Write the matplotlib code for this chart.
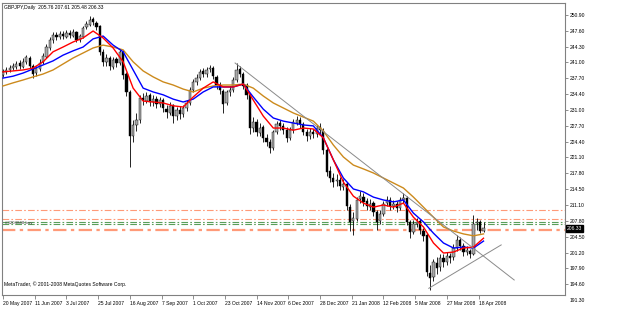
import matplotlib
matplotlib.use("Agg")
import matplotlib.pyplot as plt
import numpy as np

# ---------------- data ----------------
opens = [238.4, 239.0, 239.3, 239.9, 240.1, 240.8, 240.1, 241.0, 242.0, 240.3,
         238.7, 239.7, 241.0, 242.2, 244.1, 245.6, 246.8, 246.2, 247.0, 246.4,
         247.2, 246.6, 247.4, 245.6, 246.4, 248.3, 248.9, 250.0, 249.3, 248.5,
         243.1, 241.0, 242.0, 240.1, 241.6, 240.8, 243.1, 238.5, 234.7, 225.6,
         227.8, 229.0, 233.6, 233.0, 234.1, 232.6, 233.4, 232.2, 233.2, 231.3,
         230.5, 232.0, 229.7, 231.1, 230.1, 231.5, 232.4, 235.3, 236.8, 237.8,
         239.1, 238.5, 239.5, 239.9, 238.0, 236.2, 235.1, 232.4, 234.7, 235.3,
         237.2, 239.5, 238.5, 236.2, 234.1, 227.2, 228.6, 226.3, 227.4, 225.1,
         224.4, 223.0, 226.5, 228.2, 227.6, 226.9, 225.1, 226.9, 228.4, 229.0,
         228.0, 226.5, 225.5, 226.5, 225.9, 227.4, 226.7, 222.6, 218.2, 216.7,
         216.1, 216.3, 215.0, 215.6, 210.8, 207.7, 208.3, 212.3, 212.9, 211.9,
         210.8, 211.5, 209.6, 207.7, 209.2, 211.5, 212.1, 211.0, 211.3, 210.6,
         212.1, 212.7, 207.5, 205.6, 207.1, 207.7, 205.8, 204.8, 197.0, 196.0,
         199.1, 198.1, 200.0, 199.3, 200.4, 200.2, 202.1, 203.9, 202.5, 201.4,
         201.6, 201.0, 207.3, 207.5, 205.76]
highs = [239.6, 240.0, 240.5, 240.9, 241.3, 241.5, 241.8, 242.6, 242.4, 240.7,
         240.3, 241.6, 243.0, 244.8, 246.3, 247.4, 247.3, 247.5, 247.6, 247.8,
         247.7, 248.0, 247.6, 247.0, 248.7, 249.7, 250.6, 250.5, 249.6, 248.8,
         243.7, 242.8, 242.4, 242.1, 242.2, 243.7, 243.5, 239.0, 235.3, 229.0,
         230.4, 234.2, 234.5, 234.8, 234.6, 234.1, 233.9, 233.8, 233.6, 232.0,
         232.6, 232.3, 231.7, 231.8, 232.0, 233.2, 235.8, 237.5, 238.5, 239.6,
         239.8, 240.1, 240.5, 240.2, 238.4, 236.8, 235.5, 235.3, 236.0, 238.0,
         240.9, 240.2, 238.9, 236.6, 234.5, 229.6, 229.2, 228.2, 227.9, 225.9,
         225.0, 226.9, 228.8, 229.0, 228.3, 227.4, 227.5, 229.1, 229.7, 229.5,
         228.6, 227.1, 227.2, 227.0, 227.9, 228.2, 227.2, 223.1, 219.3, 217.8,
         217.6, 217.0, 216.6, 216.0, 211.4, 209.6, 212.9, 214.0, 213.6, 212.6,
         212.3, 212.0, 210.0, 210.1, 212.0, 213.1, 212.8, 212.2, 211.9, 212.9,
         213.7, 213.0, 208.1, 208.0, 208.4, 208.2, 206.4, 205.2, 198.6, 199.9,
         200.2, 201.0, 200.9, 201.3, 201.2, 203.0, 204.9, 204.4, 203.1, 202.6,
         202.0, 209.1, 208.5, 208.0, 207.61]
lows = [237.9, 238.6, 238.9, 239.3, 239.6, 239.7, 239.8, 240.6, 239.8, 237.7,
        238.2, 239.2, 240.6, 241.9, 243.6, 245.1, 245.6, 245.8, 245.9, 246.0,
        246.1, 246.2, 245.2, 245.2, 246.1, 247.9, 248.5, 248.8, 247.8, 242.6,
        240.2, 240.3, 239.4, 239.6, 240.1, 240.5, 237.6, 233.9, 219.2, 224.4,
        226.6, 228.4, 232.0, 232.4, 231.9, 231.8, 231.4, 231.6, 230.7, 229.4,
        230.0, 228.3, 229.0, 229.2, 229.6, 230.9, 232.0, 234.8, 236.2, 237.2,
        237.9, 238.0, 238.9, 237.5, 235.5, 234.4, 230.4, 232.0, 233.9, 234.8,
        236.8, 237.9, 235.4, 233.3, 226.0, 226.4, 225.5, 225.6, 224.4, 223.4,
        222.0, 222.6, 226.0, 226.9, 225.9, 224.3, 224.7, 226.3, 227.8, 227.2,
        225.7, 224.6, 224.9, 225.1, 225.4, 225.9, 221.9, 217.2, 215.9, 214.9,
        215.1, 214.2, 214.3, 210.0, 205.8, 204.9, 207.9, 211.6, 211.0, 210.0,
        210.1, 208.8, 205.9, 207.2, 208.8, 210.9, 210.2, 210.3, 209.7, 210.1,
        211.6, 206.9, 204.3, 205.0, 206.5, 205.1, 203.6, 196.3, 193.4, 195.2,
        196.8, 197.4, 198.1, 198.6, 199.0, 199.6, 201.6, 201.8, 200.4, 200.6,
        200.0, 200.7, 205.9, 205.2, 205.48]
closes = [239.0, 239.4, 239.8, 240.2, 240.7, 240.2, 241.1, 242.1, 240.2, 238.6,
          239.8, 240.9, 242.3, 244.2, 245.7, 246.7, 246.3, 246.9, 246.5, 247.1,
          246.7, 247.3, 245.7, 246.5, 248.2, 249.0, 249.9, 249.4, 248.4, 243.2,
          241.1, 241.9, 240.2, 241.5, 240.9, 243.2, 238.4, 234.8, 225.5, 227.9,
          228.9, 233.5, 233.1, 234.0, 232.7, 233.3, 232.3, 233.1, 231.4, 230.6,
          231.9, 229.8, 231.0, 230.2, 231.4, 232.5, 235.2, 236.9, 237.7, 239.0,
          238.6, 239.4, 239.8, 238.1, 236.1, 235.2, 232.3, 234.8, 235.2, 237.3,
          239.4, 238.6, 236.1, 234.2, 227.3, 228.5, 226.4, 227.3, 225.2, 224.3,
          223.1, 226.4, 228.1, 227.7, 226.8, 225.2, 226.8, 228.5, 228.9, 228.1,
          226.4, 225.6, 226.4, 226.0, 227.3, 226.8, 222.7, 218.1, 216.8, 216.0,
          216.4, 215.1, 215.5, 210.9, 207.6, 208.4, 212.2, 213.0, 211.8, 210.9,
          211.4, 209.7, 207.6, 209.3, 211.4, 212.2, 210.9, 211.4, 210.5, 212.2,
          212.6, 207.6, 205.5, 207.2, 207.6, 205.9, 204.7, 197.1, 195.9, 199.2,
          198.0, 200.1, 199.2, 200.5, 200.1, 202.2, 203.8, 202.6, 201.3, 201.7,
          200.9, 207.2, 207.6, 205.8, 206.33]

# moving averages, sampled every 6 bars
ma_fast = [239.0, 239.2, 239.4, 239.8, 241.1, 243.2, 244.2, 245.25, 246.1, 247.55,
           246.1, 244.0, 241.1, 235.6, 232.9, 232.7, 232.5, 231.9, 231.65, 233.75,
           235.6, 236.9, 235.85, 235.85, 236.45, 233.1, 229.75, 227.25, 227.25, 226.8,
           227.25, 227.05, 225.2, 220.6, 215.95, 213.0, 211.55, 210.7, 211.15, 210.7,
           211.55, 208.6, 206.55, 203.2, 201.1, 201.3, 202.15, 202.35, 204.2]
ma_mid = [237.7, 238.1, 238.75, 239.6, 240.45, 241.3, 242.5, 243.4, 244.2, 245.9,
          246.5, 244.6, 243.2, 239.4, 235.6, 234.8, 234.2, 233.3, 232.7, 233.3,
          234.8, 235.85, 235.85, 235.85, 236.45, 233.75, 231.2, 229.35, 228.7, 228.3,
          227.9, 227.7, 225.2, 220.6, 216.8, 214.5, 213.9, 212.8, 212.2, 211.8,
          212.2, 209.45, 207.6, 205.25, 203.2, 202.15, 202.35, 202.15, 203.6]
ma_slow = [236.05, 236.7, 237.3, 237.95, 238.55, 239.4, 240.65, 241.9, 242.95, 244.0,
           244.6, 244.2, 243.6, 241.1, 239.2, 237.95, 236.9, 236.25, 235.4, 234.8,
           235.6, 236.05, 236.25, 236.25, 236.45, 235.6, 233.95, 232.5, 231.45, 230.4,
           229.55, 228.7, 226.65, 223.7, 221.2, 219.5, 218.7, 217.85, 216.8, 215.75,
           214.7, 212.8, 210.7, 208.6, 206.55, 205.7, 205.1, 204.7, 205.1]

date_labels = ["20 May 2007", "11 Jun 2007", "3 Jul 2007", "25 Jul 2007", "16 Aug 2007",
               "7 Sep 2007", "1 Oct 2007", "23 Oct 2007", "14 Nov 2007", "6 Dec 2007",
               "28 Dec 2007", "21 Jan 2008", "12 Feb 2008", "5 Mar 2008", "27 Mar 2008",
               "18 Apr 2008"]
price_ticks = [250.90, 247.60, 244.30, 241.00, 237.70, 234.40, 231.00, 227.70, 224.40,
               221.10, 217.80, 214.50, 211.10, 207.80, 204.50, 201.20, 197.90, 194.60]
bottom_tick = 191.30

# order / stop lines (price, colour, width)
hline_prices = [210.05, 208.12, 207.64, 207.14, 205.92]
hline_colors = ["#ff9a78", "#ff9a78", "#5a9e5a", "#5a9e5a", "#ff9a78"]
hline_widths = [0.8, 0.8, 0.8, 0.8, 1.6]

# trend lines: (bar, price) endpoints
tl_down = ([139.1, 306.4], [240.86, 195.46])
tl_up = ([255.2, 298.6], [193.72, 202.80])

title_text = "GBPJPY,Daily  205.76 207.61 205.48 206.33"
last_price = "206.33"

# ---------------- drawing ----------------
FONT = ["Liberation Sans", "DejaVu Sans"]
plt.rcParams['font.family'] = FONT
FS = 3.6

W, H = 625, 309
fig = plt.figure(figsize=(W / 100, H / 100), dpi=100)
fig.patch.set_facecolor("white")
ax = fig.add_axes([2 / W, 14 / H, 563 / W, 292 / H])
ax.set_facecolor("white")

n = len(closes)
bars_per_candle = 2
x = np.arange(n) * bars_per_candle
o = np.array(opens); h = np.array(highs); l = np.array(lows); c = np.array(closes)
up = c >= o

ax.vlines(x, l, h, color="black", lw=0.6, zorder=2)
body_lo = np.minimum(o, c)
body_h = np.maximum(np.abs(c - o), 0.12)
ax.bar(x[up], body_h[up], bottom=body_lo[up], width=1.35, color="#a8a8a8",
       edgecolor="black", linewidth=0.3, zorder=3)
ax.bar(x[~up], body_h[~up], bottom=body_lo[~up], width=1.35, color="black",
       edgecolor="black", linewidth=0.3, zorder=3)

xm = np.arange(len(ma_fast)) * 6
ax.plot(xm, ma_slow, color="#cc8a1c", lw=1.0, zorder=4)
ax.plot(xm, ma_mid, color="#0000ff", lw=1.0, zorder=4)
ax.plot(xm, ma_fast, color="#ff0000", lw=1.0, zorder=4)

ax.plot(*tl_down, color="#8a8a8a", lw=0.7, zorder=5)
ax.plot(*tl_up, color="#8a8a8a", lw=0.7, zorder=5)

for p, col, lw in zip(hline_prices, hline_colors, hline_widths):
    ax.axhline(p, color=col, lw=lw, ls=(0, (6, 2, 1.5, 2)), zorder=1)

ax.text(1.0, 207.4, "#3204848 buy", fontsize=3.2, color="#404040", va="center",
        ha="left", zorder=6)

px_per_bar = 31.7 / 19
ax.set_xlim(-0.6, -0.6 + 563 / px_per_bar)
ax.set_ylim(192.32, 253.41)

ax.set_xticks(np.arange(len(date_labels)) * 19)
ax.set_xticklabels(date_labels, ha="left", fontsize=FS)
ax.tick_params(axis="x", direction="out", length=3, width=0.5, pad=1,
               colors="#606060", labelcolor="black")

ax.yaxis.tick_right()
ax.set_yticks(price_ticks)
ax.set_yticklabels([f"{v:.2f}" for v in price_ticks], fontsize=FS)
ax.tick_params(axis="y", direction="out", length=2, width=0.5, pad=1.5,
               colors="#606060", labelcolor="black")
# lowest scale label sits at the bottom edge of the scale
fig.text(569.5 / W, 1 - 300 / H, f"{bottom_tick:.2f}", fontsize=FS, va="center",
         ha="left")

for s in ax.spines.values():
    s.set_color("#808080")
    s.set_linewidth(0.8)

# title and copyright
ax.text(0.004, 0.992, title_text, transform=ax.transAxes, fontsize=FS,
        va="top", ha="left", color="black")
ax.text(0.003, 0.028, "MetaTrader, \u00a9 2001-2008 MetaQuotes Software Corp.",
        transform=ax.transAxes, fontsize=FS, va="bottom", ha="left", color="black")

# current price box on the price scale
ytr = ax.transData.transform((0, closes[-1]))[1]
fig.text(567 / W, ytr / fig.bbox.height, last_price, fontsize=FS, va="center",
         ha="left", color="white",
         bbox=dict(boxstyle="square,pad=0.2", fc="black", ec="black"))

fig.savefig("out.png", dpi=100, facecolor="white")
